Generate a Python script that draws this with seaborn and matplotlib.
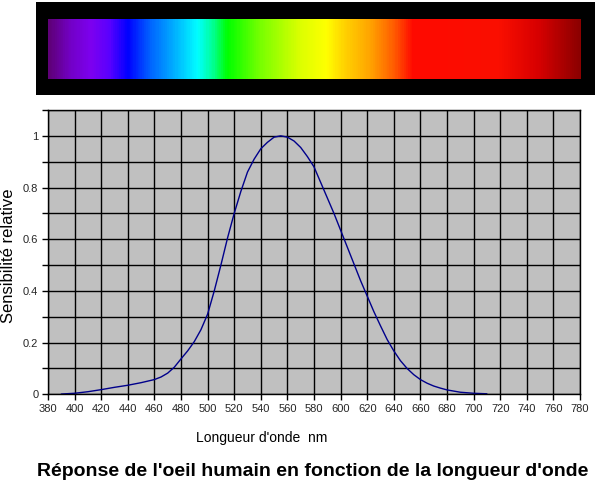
import numpy as np
import pandas as pd
import matplotlib
matplotlib.use("Agg")
import matplotlib.pyplot as plt
from matplotlib.colors import LinearSegmentedColormap
import seaborn as sns

# ---- data ----
wavelength_nm = [390, 400, 410, 420, 430, 440, 450, 460, 465, 470, 475, 480, 485, 490,
                 495, 500, 505, 510, 515, 520, 525, 530, 535, 540, 545, 550, 555,
                 560, 565, 570, 575, 580, 585, 590, 595, 600, 605, 610, 615, 620,
                 625, 630, 635, 640, 645, 650, 655, 660, 665, 670, 675, 680, 690,
                 700, 710]
sensibilite = [0.001, 0.004, 0.010, 0.018, 0.027, 0.035, 0.045, 0.057, 0.067, 0.082,
               0.105, 0.137, 0.168, 0.204, 0.25, 0.31, 0.40, 0.50, 0.605, 0.70,
               0.785, 0.86, 0.91, 0.95, 0.975, 0.995, 1.0, 0.995, 0.98, 0.955,
               0.92, 0.88, 0.82, 0.76, 0.70, 0.635, 0.57, 0.505, 0.44, 0.38, 0.32,
               0.265, 0.212, 0.168, 0.13, 0.100, 0.076, 0.057, 0.043, 0.032, 0.024,
               0.017, 0.008, 0.004, 0.002]
x_ticks = list(range(380, 781, 20))
y_ticks = [0, 0.1, 0.2, 0.3, 0.4, 0.5, 0.6, 0.7, 0.8, 0.9, 1.0, 1.1]
y_labels = ["0", "", "0.2", "", "0.4", "", "0.6", "", "0.8", "", "1", ""]

# spectrum colour stops (relative position, rgb 0-255)
spec_pos = [0.0, 0.041, 0.079, 0.113, 0.148, 0.191, 0.238, 0.280, 0.308, 0.336,
            0.398, 0.473, 0.523, 0.557, 0.604, 0.651, 0.685, 0.848, 0.923, 1.0]
spec_rgb = [(95, 0, 120), (115, 0, 200), (125, 0, 240), (90, 0, 255), (0, 0, 255),
            (0, 100, 255), (0, 180, 255), (0, 255, 255), (0, 255, 150), (0, 255, 0),
            (120, 255, 0), (220, 255, 0), (255, 255, 0), (255, 210, 0), (255, 165, 0),
            (255, 90, 0), (255, 10, 0), (250, 15, 0), (215, 0, 0), (140, 0, 0)]

df = pd.DataFrame({"Longueur": wavelength_nm, "Sensibilite": sensibilite})

sns.set_theme(style="white")
plt.rcParams["font.family"] = ["Liberation Sans", "DejaVu Sans"]

W, H = 600, 487
fig = plt.figure(figsize=(W / 100, H / 100), dpi=100)
fig.patch.set_facecolor("white")

def fx(px):
    return px / W

def fy(py):
    return 1 - py / H

# spectrum band in a black frame
frame = fig.add_axes([fx(36), fy(95), fx(595 - 36), (95 - 2) / H])
frame.set_facecolor("black")
frame.set_xticks([]); frame.set_yticks([])
for s in frame.spines.values():
    s.set_visible(False)

cmap = LinearSegmentedColormap.from_list(
    "spec", [(p, tuple(c / 255 for c in rgb)) for p, rgb in zip(spec_pos, spec_rgb)])
spec = fig.add_axes([fx(48), fy(79), fx(581 - 48), (79 - 19) / H])
spec.imshow(np.linspace(0, 1, 600)[None, :], aspect="auto", cmap=cmap,
            extent=[0, 1, 0, 1])
spec.set_xticks([]); spec.set_yticks([])
for s in spec.spines.values():
    s.set_visible(False)

# main chart
ax = fig.add_axes([fx(48), fy(394.3), fx(580 - 48), (394.3 - 110) / H])
ax.set_facecolor("#c0c0c0")
sns.lineplot(data=df, x="Longueur", y="Sensibilite", ax=ax, color="#00008b",
             linewidth=1.0)
ax.set_xlim(380, 780)
ax.set_ylim(0, 1.1)
ax.set_xticks(x_ticks)
ax.set_xticklabels([str(t) for t in x_ticks], fontsize=8)
ax.set_yticks(y_ticks)
ax.set_yticklabels(y_labels, fontsize=8)
ax.grid(True, color="black", linewidth=1.0)
ax.set_axisbelow(True)
ax.tick_params(axis="both", direction="out", length=4, width=1, color="black",
               bottom=True, left=True, pad=3)
for name, s in ax.spines.items():
    s.set_color("black")
    s.set_linewidth(1.0)
ax.set_xlabel("")
ax.set_ylabel("")

fig.text(fx(262), fy(438), "Longueur d'onde  nm", ha="center", va="center",
         fontsize=10, color="black")
fig.text(fx(9), fy(256), "Sensibilité relative", ha="center", va="center",
         rotation=90, fontsize=12, color="black")
fig.text(fx(313), fy(472), "Réponse de l'oeil humain en fonction de la longueur d'onde",
         ha="center", va="center", fontsize=14, fontweight="bold", color="black")

fig.savefig("out.png", dpi=100, facecolor="white")
